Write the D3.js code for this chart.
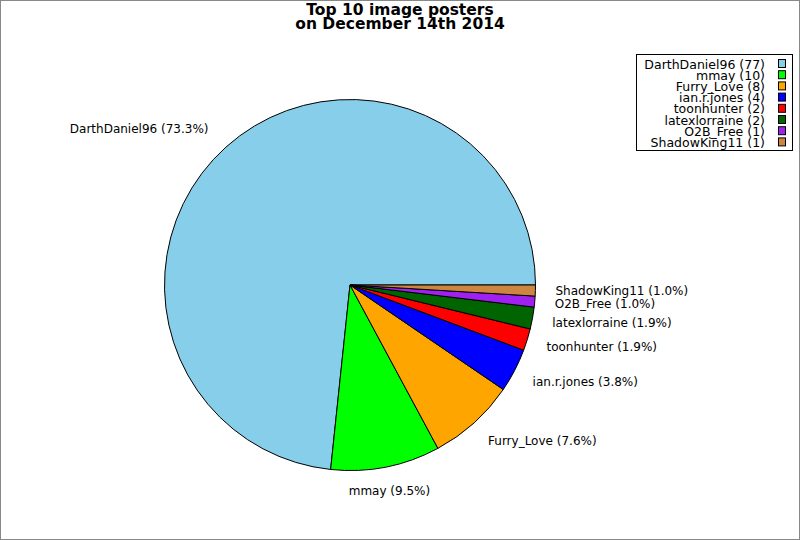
<!DOCTYPE html>
<html lang="en">
  <head>
    <meta charset="utf-8">
    <title>Top 10 image posters</title>
    <script type="text/javascript" src="https://d3js.org/d3.v7.min.js"></script>
    <style>
      body { margin: 0; }
      text { font-family: "DejaVu Sans", sans-serif; }
    </style>
  </head>
  <body>
    <script type="text/javascript">
    var w = 800;
    var h = 540;

    var names = ["DarthDaniel96", "mmay", "Furry_Love", "ian.r.jones", "toonhunter", "latexlorraine", "O2B_Free", "ShadowKing11"];
    var counts = [77, 10, 8, 4, 2, 2, 1, 1];
    var colors = ["#87ceeb", "#00ff00", "#ffa500", "#0000ff", "#ff0000", "#006400", "#a020f0", "#cd853f"];
    var titleLines = ["Top 10 image posters", "on December 14th 2014"];

    var cx = 350, cy = 285, r = 185.5;
    var total = d3.sum(counts);
    var dataset = names.map(function(n, i) { return {name: n, count: counts[i], color: colors[i]}; });

    var svg = d3.select("body").append("svg").attr("width", w).attr("height", h);
    svg.append("rect").attr("x", 0.5).attr("y", 0.5).attr("width", w - 1).attr("height", h - 1)
      .attr("fill", "white").attr("stroke", "#888");

    // counter-clockwise from 3 o'clock, as in the original
    var pie = d3.pie().value(function(d) { return d.count; }).sort(null)
      .startAngle(Math.PI / 2).endAngle(Math.PI / 2 - 2 * Math.PI);
    var arc = d3.arc().innerRadius(0).outerRadius(r);
    var arcs = pie(dataset);

    var g = svg.append("g").attr("transform", "translate(" + cx + "," + cy + ")");
    g.selectAll("path")
      .data(arcs)
      .enter()
      .append("path")
      .attr("d", arc)
      .attr("fill", function(d) { return d.data.color; })
      .attr("stroke", "black")
      .attr("stroke-width", 1);

    var fmt = d3.format(".1f");
    var lr = r * 1.1;
    g.selectAll("text.lbl")
      .data(arcs)
      .enter()
      .append("text")
      .attr("class", "lbl")
      .attr("font-size", 12)
      .attr("dominant-baseline", "central")
      .each(function(d) {
        var a = (d.startAngle + d.endAngle) / 2;
        var dx = Math.sin(a), dy = -Math.cos(a);
        var anchor = Math.abs(dx) < 0.3 ? "middle" : (dx > 0 ? "start" : "end");
        var pad = anchor == "middle" ? 0 : (dx > 0 ? 1.5 : -5);
        d3.select(this)
          .attr("x", lr * dx + pad)
          .attr("y", lr * dy + 6 * dy)
          .attr("text-anchor", anchor)
          .text(d.data.name + " (" + fmt(100 * d.data.count / total) + "%)");
      });

    svg.selectAll("text.title")
      .data(titleLines)
      .enter()
      .append("text")
      .attr("class", "title")
      .attr("x", 400)
      .attr("y", function(d, i) { return 15.3 + i * 14; })
      .attr("text-anchor", "middle")
      .attr("font-size", 15.5)
      .attr("font-weight", "bold")
      .text(function(d) { return d; });

    // legend
    var lg = svg.append("g");
    lg.append("rect").attr("x", 636.5).attr("y", 54.5).attr("width", 156).attr("height", 96)
      .attr("fill", "white").attr("stroke", "black");
    var rowY = d3.scaleLinear().domain([0, 1]).range([63.5, 74.7]);
    var rows = lg.selectAll("g.row")
      .data(dataset)
      .enter()
      .append("g")
      .attr("class", "row")
      .attr("transform", function(d, i) { return "translate(0," + rowY(i) + ")"; });
    rows.append("text")
      .attr("x", 765)
      .attr("y", 0.5)
      .attr("dominant-baseline", "central")
      .attr("text-anchor", "end")
      .attr("font-size", 12.5)
      .text(function(d) { return d.name + " (" + d.count + ")"; });
    rows.append("rect")
      .attr("x", 778.5)
      .attr("y", -4)
      .attr("width", 7)
      .attr("height", 8)
      .attr("fill", function(d) { return d.color; })
      .attr("stroke", "black");
    </script>
  </body>
</html>
